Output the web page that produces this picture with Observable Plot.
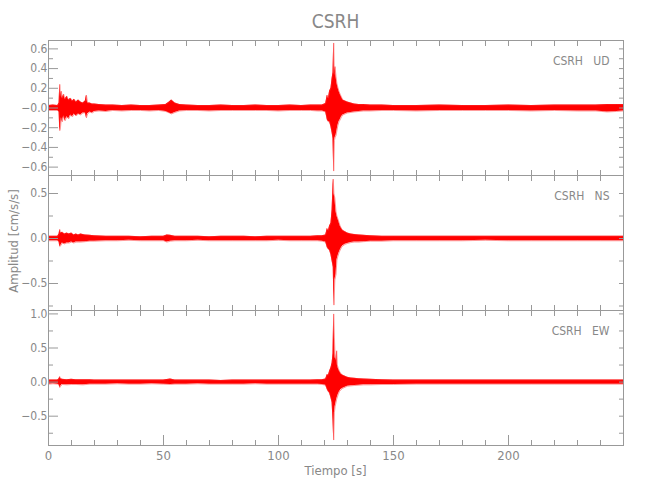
<!DOCTYPE html>
<html><head><meta charset="utf-8">
<script src="https://cdn.jsdelivr.net/npm/d3@7"></script>
<script src="https://cdn.jsdelivr.net/npm/@observablehq/plot@0.6"></script>
<style>
body{margin:0;background:#fff}
#wrap{position:relative;width:650px;height:500px;font-family:"Liberation Sans Narrow","DejaVu Sans Condensed","DejaVu Sans",sans-serif;font-stretch:condensed;color:#888}
.panel{position:absolute;left:0}
#title{position:absolute;left:0;width:671px;top:9px;text-align:center;font-size:19px;line-height:24px}
#xlabel{position:absolute;left:0;width:671px;top:463px;text-align:center;font-size:13px;line-height:16px}
#ylabel{position:absolute;left:14px;top:241px;transform:translate(-50%,-50%) rotate(-90deg);font-size:13px;line-height:16px;white-space:nowrap}
</style></head>
<body><div id="wrap">
<div id="title">CSRH</div>
<div id="ylabel">Amplitud [cm/s/s]</div>
<div id="xlabel">Tiempo [s]</div>
</div>
<script>
// time [s], upper envelope, lower envelope (cm/s/s)
const ud = [[0,.025,-.025],[2,.03,-.025],[4,.025,-.025],[4.6,.05,-.04],[4.9,.24,-.23],[5.2,.12,-.20],[5.6,.17,-.10],[6,.10,-.14],[6.6,.14,-.08],[7.2,.09,-.13],[8,.12,-.09],[8.8,.08,-.11],[9.6,.10,-.07],[10.4,.07,-.09],[11.2,.09,-.06],[12,.06,-.08],[13,.08,-.06],[14,.06,-.07],[15,.05,-.05],[16,.07,-.05],[16.5,.13,-.10],[17,.05,-.06],[18,.05,-.04],[19,.04,-.05],[20,.04,-.035],[22,.035,-.03],[25,.03,-.035],[28,.03,-.025],[32,.025,-.03],[36,.03,-.025],[40,.025,-.025],[44,.025,-.03],[48,.03,-.025],[51,.035,-.035],[52.5,.06,-.05],[53.5,.08,-.06],[55,.05,-.045],[57,.035,-.03],[60,.03,-.025],[65,.025,-.025],[70,.025,-.03],[75,.03,-.025],[80,.025,-.025],[85,.025,-.025],[90,.03,-.025],[95,.025,-.025],[100,.025,-.03],[105,.03,-.025],[110,.025,-.025],[114,.03,-.025],[117,.03,-.03],[119,.03,-.03],[120.5,.045,-.04],[121.2,.13,-.12],[121.7,.10,-.14],[122.2,.17,-.14],[122.8,.20,-.19],[123.3,.30,-.25],[123.7,.36,-.31],[124,.66,-.64],[124.3,.34,-.33],[124.6,.42,-.30],[125,.32,-.28],[125.4,.25,-.23],[125.8,.21,-.18],[126.3,.17,-.14],[126.8,.14,-.12],[127.4,.11,-.09],[128,.08,-.07],[129,.07,-.06],[130,.06,-.05],[131.5,.05,-.045],[133,.04,-.04],[135,.035,-.035],[137,.035,-.03],[140,.03,-.03],[145,.03,-.025],[150,.025,-.025],[160,.025,-.03],[170,.03,-.025],[180,.025,-.025],[190,.025,-.025],[200,.03,-.025],[210,.025,-.03],[220,.03,-.025],[230,.03,-.03],[238,.03,-.03],[243,.035,-.04],[247,.035,-.035],[250,.035,-.03]];
const ns = [[0,.025,-.025],[2,.025,-.025],[4,.025,-.025],[4.6,.05,-.04],[4.9,.10,-.09],[5.3,.06,-.08],[6,.07,-.05],[7,.05,-.06],[8,.06,-.05],[9,.05,-.05],[10,.06,-.04],[11,.04,-.05],[12,.05,-.04],[13,.04,-.04],[14,.05,-.04],[16,.04,-.035],[18,.035,-.03],[20,.03,-.03],[25,.025,-.025],[30,.025,-.025],[35,.025,-.02],[40,.02,-.025],[45,.025,-.025],[50,.025,-.025],[51.5,.04,-.04],[53,.035,-.03],[55,.025,-.025],[60,.025,-.025],[65,.025,-.02],[70,.02,-.025],[75,.025,-.025],[80,.025,-.025],[85,.025,-.025],[90,.02,-.025],[95,.025,-.025],[100,.025,-.02],[105,.025,-.025],[110,.025,-.025],[114,.025,-.025],[117,.03,-.025],[119,.03,-.03],[120.5,.04,-.04],[121.2,.11,-.10],[121.7,.09,-.12],[122.2,.14,-.13],[122.8,.17,-.18],[123.3,.32,-.25],[123.8,.66,-.32],[124.1,.50,-.74],[124.5,.45,-.46],[125,.30,-.40],[125.4,.25,-.24],[125.8,.22,-.20],[126.3,.18,-.16],[126.8,.14,-.13],[127.4,.11,-.10],[128,.09,-.08],[129,.075,-.065],[130,.06,-.055],[131.5,.05,-.045],[133,.045,-.04],[135,.04,-.04],[137,.035,-.035],[140,.03,-.03],[145,.025,-.03],[150,.025,-.025],[160,.025,-.025],[170,.025,-.025],[180,.025,-.025],[190,.025,-.02],[200,.025,-.025],[210,.025,-.025],[220,.025,-.025],[230,.025,-.025],[240,.025,-.025],[250,.025,-.025]];
const ew = [[0,.03,-.03],[2,.03,-.025],[4,.03,-.03],[4.6,.05,-.04],[4.9,.08,-.08],[5.3,.05,-.06],[6,.04,-.035],[8,.035,-.04],[10,.04,-.035],[12,.035,-.035],[15,.035,-.04],[18,.035,-.03],[20,.03,-.03],[25,.03,-.03],[30,.03,-.025],[35,.03,-.03],[40,.03,-.03],[45,.03,-.025],[50,.03,-.03],[53,.045,-.035],[55,.03,-.03],[60,.03,-.03],[65,.03,-.025],[70,.03,-.03],[75,.025,-.03],[80,.03,-.03],[85,.03,-.03],[90,.03,-.025],[95,.03,-.03],[100,.03,-.03],[105,.03,-.03],[110,.03,-.03],[114,.03,-.03],[117,.035,-.03],[119,.035,-.035],[120.5,.045,-.045],[121.2,.11,-.11],[121.7,.10,-.14],[122.2,.16,-.16],[122.8,.21,-.23],[123.3,.28,-.30],[123.7,.42,-.56],[124,1.0,-.85],[124.3,.66,-.45],[124.6,.36,-.36],[125,.32,-.30],[125.3,.46,-.25],[125.6,.25,-.22],[126,.20,-.18],[126.5,.16,-.14],[127.2,.12,-.11],[128,.10,-.09],[129,.085,-.075],[130,.07,-.06],[131.5,.06,-.055],[133,.055,-.05],[135,.05,-.045],[137,.045,-.04],[140,.04,-.04],[145,.035,-.035],[150,.03,-.035],[160,.03,-.03],[170,.03,-.03],[180,.03,-.03],[190,.03,-.03],[200,.03,-.03],[210,.03,-.03],[220,.03,-.03],[230,.03,-.03],[240,.03,-.03],[250,.03,-.03]];

const xMajor = [0, 50, 100, 150, 200];
const xMinor = [10,20,30,40,60,70,80,90,110,120,130,140,160,170,180,190,210,220,230,240];
const xLabels = ["0", "50", "100", "150", "200"];

const udMajor = [0.6, 0.4, 0.2, 0, -0.2, -0.4, -0.6];
const udLabels = ["0.6", "0.4", "0.2", "\u22120.0", "\u22120.2", "\u22120.4", "\u22120.6"];
const udMinor = [0.5, 0.3, 0.1, -0.1, -0.3, -0.5];
const nsMajor = [0.5, 0, -0.5];
const nsLabels = ["0.5", "0.0", "\u22120.5"];
const nsMinor = [0.25, -0.25, -0.75];
const ewMajor = [1.0, 0.5, 0, -0.5];
const ewLabels = ["1.0", "0.5", "0.0", "\u22120.5"];
const ewMinor = [0.75, 0.25, -0.25, -0.75];

const panels = [
  {name: "CSRH\u00a0\u00a0\u00a0UD", rows: ud, domain: [-0.685, 0.685], major: udMajor, labels: udLabels, minor: udMinor, top: 40},
  {name: "CSRH\u00a0\u00a0\u00a0NS", rows: ns, domain: [-0.80, 0.70], major: nsMajor, labels: nsLabels, minor: nsMinor, top: 175},
  {name: "CSRH\u00a0\u00a0\u00a0EW", rows: ew, domain: [-0.93, 1.05], major: ewMajor, labels: ewLabels, minor: ewMinor, top: 310, bottom: true}
];

const FONT = '"Liberation Sans Narrow","DejaVu Sans Condensed","DejaVu Sans",sans-serif';
const GRAY = "#999";
const TXT = "#888";
const wrap = document.getElementById("wrap");

for (const p of panels) {
  const lab = new Map(p.major.map((v, i) => [v, p.labels[i]]));
  const xlab = new Map(xMajor.map((v, i) => [v, xLabels[i]]));
  const marks = [
    Plot.areaY(p.rows, {x: d => d[0], y1: d => d[2], y2: d => d[1], fill: "#ff0000", clip: true}),
    Plot.line(p.rows, {x: d => d[0], y: d => d[1], stroke: "#ff3030", strokeWidth: 0.5, clip: true}),
    Plot.line(p.rows, {x: d => d[0], y: d => d[2], stroke: "#ff3030", strokeWidth: 0.5, clip: true}),
    Plot.frame({stroke: GRAY}),
    Plot.axisY(p.major, {anchor: "left", tickSize: -10, fill: "none", stroke: GRAY, label: null}),
    Plot.axisY(p.minor, {anchor: "left", tickSize: -5, fill: "none", stroke: GRAY, label: null}),
    Plot.axisY(p.major.concat(p.minor), {anchor: "right", tickSize: -5, fill: "none", stroke: GRAY, label: null}),
    Plot.axisY(p.major, {anchor: "left", tickSize: 0, tickPadding: 1, tickFormat: d => lab.get(d), fill: TXT, fontSize: 12, fontFamily: FONT, label: null}),
    Plot.axisX(xMajor.concat(xMinor), {anchor: "top", tickSize: -5, fill: "none", stroke: GRAY, label: null}),
    Plot.axisX(p.bottom ? xMinor : xMajor.concat(xMinor), {anchor: "bottom", tickSize: -5, fill: "none", stroke: GRAY, label: null}),
    Plot.text([p.name], {frameAnchor: "top-right", dx: -14, dy: 21, lineAnchor: "middle", fill: TXT, fontSize: 12, fontFamily: FONT})
  ];
  if (p.bottom) {
    marks.push(Plot.axisX(xMajor, {anchor: "bottom", tickSize: -10, fill: "none", stroke: GRAY, label: null}));
    marks.push(Plot.axisX(xMajor, {anchor: "bottom", tickSize: 0, tickPadding: 5, tickFormat: d => xlab.get(d), fill: TXT, fontSize: 13, fontFamily: FONT, label: null}));
  }
  const chart = Plot.plot({
    width: 650, height: 135,
    marginLeft: 48, marginRight: 27, marginTop: 0, marginBottom: 0,
    x: {domain: [0, 250]},
    y: {domain: p.domain},
    style: {background: "transparent", overflow: "visible", fontFamily: FONT},
    marks
  });
  chart.classList.add("panel");
  chart.style.top = p.top + "px";
  chart.style.position = "absolute";
  chart.style.left = "0px";
  wrap.appendChild(chart);
}
</script>
</body></html>
